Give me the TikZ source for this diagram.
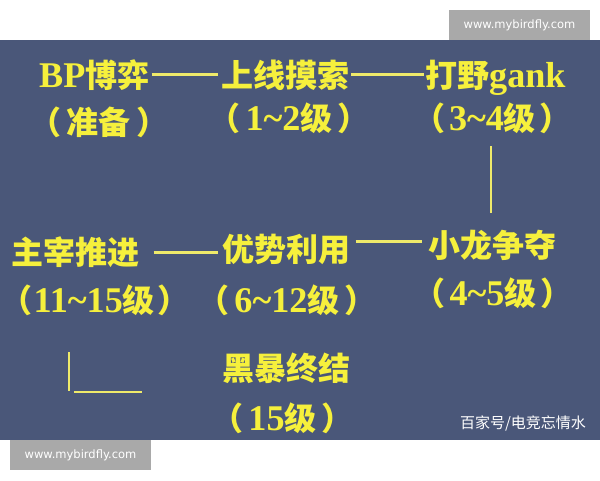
\documentclass[tikz,border=0pt]{standalone}
\usepackage{fontspec}
\newfontfamily\cjkfont{Noto Sans CJK SC}
\newfontfamily\latfont{Liberation Serif}[Scale=1.13]
\newfontfamily\wmfont{DejaVu Sans}
\usetikzlibrary{calc}
\definecolor{bgblue}{HTML}{4A5779}
\definecolor{ylw}{HTML}{F6F03C}
\definecolor{lny}{HTML}{EFEA6A}
\definecolor{wmgray}{HTML}{A9A9A9}
\newcommand\zhs[1]{{\cjkfont #1}}
\newcommand\latn[1]{{\latfont #1}}
\newcommand\pl[1][6pt]{\zhs{（}\hspace{#1}}
\newcommand\pr[1][6pt]{\hspace{#1}\zhs{）}}
\begin{document}
\begin{tikzpicture}[x=1pt,y=-1pt,
  lab/.style={inner sep=0pt, text=ylw, font=\fontsize{32}{38}\selectfont\bfseries,
              text height=24pt, text depth=0pt},
  link/.style={draw=lny, line width=3pt},
  vlink/.style={draw=lny, line width=2.5pt},
  wmbox/.style={fill=wmgray, draw=none, minimum width=141pt, minimum height=30pt,
                inner sep=0pt, text=white, font=\wmfont\fontsize{11.5}{13}\selectfont},
  credit/.style={inner sep=0pt, text=white, font=\cjkfont\fontsize{15}{18}\selectfont}]
\useasboundingbox (0,0) rectangle (600,480);
\fill[white] (0,0) rectangle (600,480);
\fill[bgblue] (0,40) rectangle (600,440);

% watermarks
\node[wmbox] (wm1) at (519.5,25) {www.mybirdfly.com};
\node[wmbox] (wm2) at (80.5,455) {www.mybirdfly.com};
\node[credit] (cr) at (523,423) {百家号/电竞忘情水};

% row 1
\node[lab, anchor=west] (bp) at (39,75) {\latn{BP}\zhs{博弈}};
\node[lab, anchor=west] (sx) at (221,75) {\zhs{上线摸索}};
\node[lab, anchor=west] (dy) at (425,75) {\zhs{打野}\latn{gank}};
% row 2
\node[lab] (zb) at (99,122) {\pl\zhs{准备}\pr};
\node[lab] (l12) at (289,118) {\pl[5pt]\latn{1\textasciitilde 2}\zhs{级}\pr[5pt]};
\node[lab] (l34) at (492.5,118) {\pl[4pt]\latn{3\textasciitilde 4}\zhs{级}\pr[4pt]};
% row 3
\node[lab] (zz) at (75.5,252) {\zhs{主宰推进}};
\node[lab] (ys) at (286.5,249) {\zhs{优势利用}};
\node[lab] (xl) at (492.5,245) {\zhs{小龙争夺}};
% row 4
\node[lab, anchor=west] (l1115) at (0.5,300) {\pl[1pt]\latn{11\textasciitilde 15}\zhs{级}\pr[3pt]};
\node[lab] (l612) at (287,300) {\pl[5pt]\latn{6\textasciitilde 12}\zhs{级}\pr[5pt]};
\node[lab] (l45) at (493,293) {\pl[4pt]\latn{4\textasciitilde 5}\zhs{级}\pr[4pt]};
% row 5
\node[lab] (hb) at (286,368) {\zhs{黑暴终结}};
\node[lab] (l15) at (282.5,418) {\pl[5pt]\latn{15}\zhs{级}\pr[5pt]};

% connectors
\draw[link] ($(bp.east)+(2,-1)$) -- ($(sx.west)+(-3,-1)$);
\draw[link] ($(sx.east)+(2,-1)$) -- ($(dy.west)+(-1,-1)$);
\draw[vlink] ($(l34.south)+(-1.5,16)$) -- ($(xl.north)+(-1.5,-20)$);
\draw[link] ($(zz.east)+(14,0)$) -- ($(ys.west)+(-4,3)$);
\coordinate (d2a) at ($(ys.east)+(5,-8)$);
\coordinate (d2b) at ($(xl.west)+(-6,-4)$);
\draw[link] (d2a) -- (d2b);
\coordinate (la) at (69,352);
\coordinate (lb) at (69,391);
\coordinate (lc) at (74,392);
\coordinate (ld) at (142,392);
\draw[vlink] (la) -- (lb);
\draw[vlink] (lc) -- (ld);
\end{tikzpicture}
\end{document}
